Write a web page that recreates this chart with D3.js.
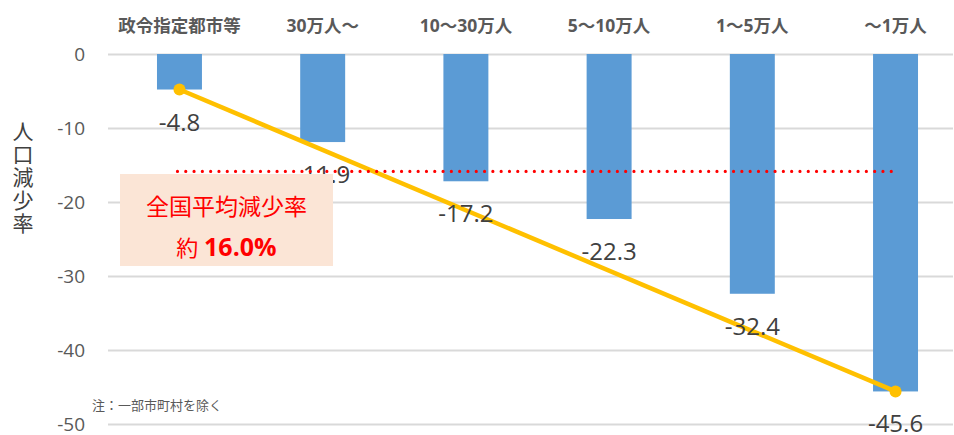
<!DOCTYPE html>
<html>
<head>
<meta charset="utf-8">
<script src="https://cdn.jsdelivr.net/npm/d3@7"></script>
<style>
  body { margin: 0; background: #fff; }
  svg { display: block; }
  text { font-family: "Open Sans", "Noto Sans CJK JP", sans-serif; }
</style>
</head>
<body>
<div class="app"></div>
<script>
// categories and values
var categories = ["政令指定都市等", "30万人～", "10～30万人", "5～10万人", "1～5万人", "～1万人"];
var declineRates = [-4.8, -11.9, -17.2, -22.3, -32.4, -45.6];
var trendPoints = [
  { cat: "政令指定都市等", v: -4.8 },
  { cat: "～1万人", v: -45.6 }
];
var nationalAverage = -16.0;
var yTicks = [0, -10, -20, -30, -40, -50];

var width = 954, height = 435;
var plot = { left: 108, right: 953, top: 54, bottom: 424 };

var svg = d3.select(".app").append("svg")
    .attr("width", width)
    .attr("height", height);

// scales
var x = d3.scaleBand()
    .domain(categories)
    .range([plot.left, 967])
    .paddingInner(0.686)
    .paddingOuter(0.342);

var y = d3.scaleLinear()
    .domain([0, -50])
    .range([plot.top, plot.bottom]);

// plain hyphen minus, like the original
var fmt1 = function(d) { return d.toFixed(1); };

// y axis with gridlines
var yAxis = svg.append("g")
    .attr("transform", "translate(" + plot.left + ",0)")
    .call(d3.axisLeft(y)
      .tickValues(yTicks)
      .tickSize(-(plot.right - plot.left))
      .tickPadding(23)
      .tickFormat(function(d) { return String(d); }));
yAxis.select(".domain").remove();
yAxis.selectAll(".tick line")
    .attr("stroke", "#d9d9d9")
    .attr("stroke-width", 2);
yAxis.selectAll(".tick text")
    .attr("fill", "#595959")
    .style("font-size", "19px");

// category labels along the top
svg.append("g")
  .selectAll("text")
  .data(categories)
  .join("text")
    .attr("x", function(d) { return x(d) + x.bandwidth() / 2; })
    .attr("y", 32)
    .attr("text-anchor", "middle")
    .attr("fill", "#595959")
    .style("font-size", "17.5px")
    .style("font-weight", "bold")
    .text(function(d) { return d; });

// bars
svg.append("g")
  .selectAll("rect")
  .data(declineRates)
  .join("rect")
    .attr("x", function(d, i) { return x(categories[i]); })
    .attr("y", y(0))
    .attr("width", x.bandwidth())
    .attr("height", function(d) { return y(d) - y(0); })
    .attr("fill", "#5b9bd5");

// yellow trend line
var line = d3.line()
    .x(function(d) { return x(d.cat) + x.bandwidth() / 2; })
    .y(function(d) { return y(d.v); });

svg.append("path")
    .datum(trendPoints)
    .attr("fill", "none")
    .attr("stroke", "#ffc000")
    .attr("stroke-width", 4.5)
    .attr("d", line);

svg.append("g")
  .selectAll("circle")
  .data(trendPoints)
  .join("circle")
    .attr("cx", function(d) { return x(d.cat) + x.bandwidth() / 2; })
    .attr("cy", function(d) { return y(d.v); })
    .attr("r", 6)
    .attr("fill", "#ffc000");

// value labels
svg.append("g")
  .selectAll("text")
  .data(declineRates)
  .join("text")
    .attr("x", function(d, i) { return x(categories[i]) + x.bandwidth() / 2; })
    .attr("y", function(d) { return y(d) + 41; })
    .attr("text-anchor", "middle")
    .attr("fill", "#404040")
    .style("font-size", "24px")
    .text(fmt1);

// national average dotted line
svg.append("line")
    .attr("x1", x(categories[0]) + x.bandwidth() / 2 - 2)
    .attr("x2", x(categories[5]) + x.bandwidth() / 2)
    .attr("y1", y(nationalAverage) - 1)
    .attr("y2", y(nationalAverage) - 1)
    .attr("stroke", "#ff0000")
    .attr("stroke-width", 3.2)
    .attr("stroke-linecap", "round")
    .attr("stroke-dasharray", "0 8.3");

// annotation box
svg.append("rect")
    .attr("x", 120)
    .attr("y", 174)
    .attr("width", 213)
    .attr("height", 92)
    .attr("fill", "#fbe5d6");

svg.append("text")
    .attr("x", 226.5)
    .attr("y", 215)
    .attr("text-anchor", "middle")
    .attr("fill", "#ff0000")
    .style("font-size", "23px")
    .text("全国平均減少率");

var avgText = svg.append("text")
    .attr("x", 226.5)
    .attr("y", 256)
    .attr("text-anchor", "middle")
    .attr("fill", "#ff0000");
avgText.append("tspan")
    .style("font-size", "22px")
    .text("約 ");
avgText.append("tspan")
    .style("font-size", "25px")
    .style("font-weight", "bold")
    .text(Math.abs(nationalAverage).toFixed(1) + "%");

// y axis title, written vertically
svg.append("text")
    .attr("x", 22)
    .attr("y", 121)
    .attr("fill", "#404040")
    .style("font-size", "21px")
    .style("writing-mode", "vertical-rl")
    .style("letter-spacing", "2px")
    .text("人口減少率");

// footnote
svg.append("text")
    .attr("x", 92)
    .attr("y", 410)
    .attr("fill", "#595959")
    .style("font-size", "13px")
    .text("注：一部市町村を除く");
</script>
</body>
</html>
